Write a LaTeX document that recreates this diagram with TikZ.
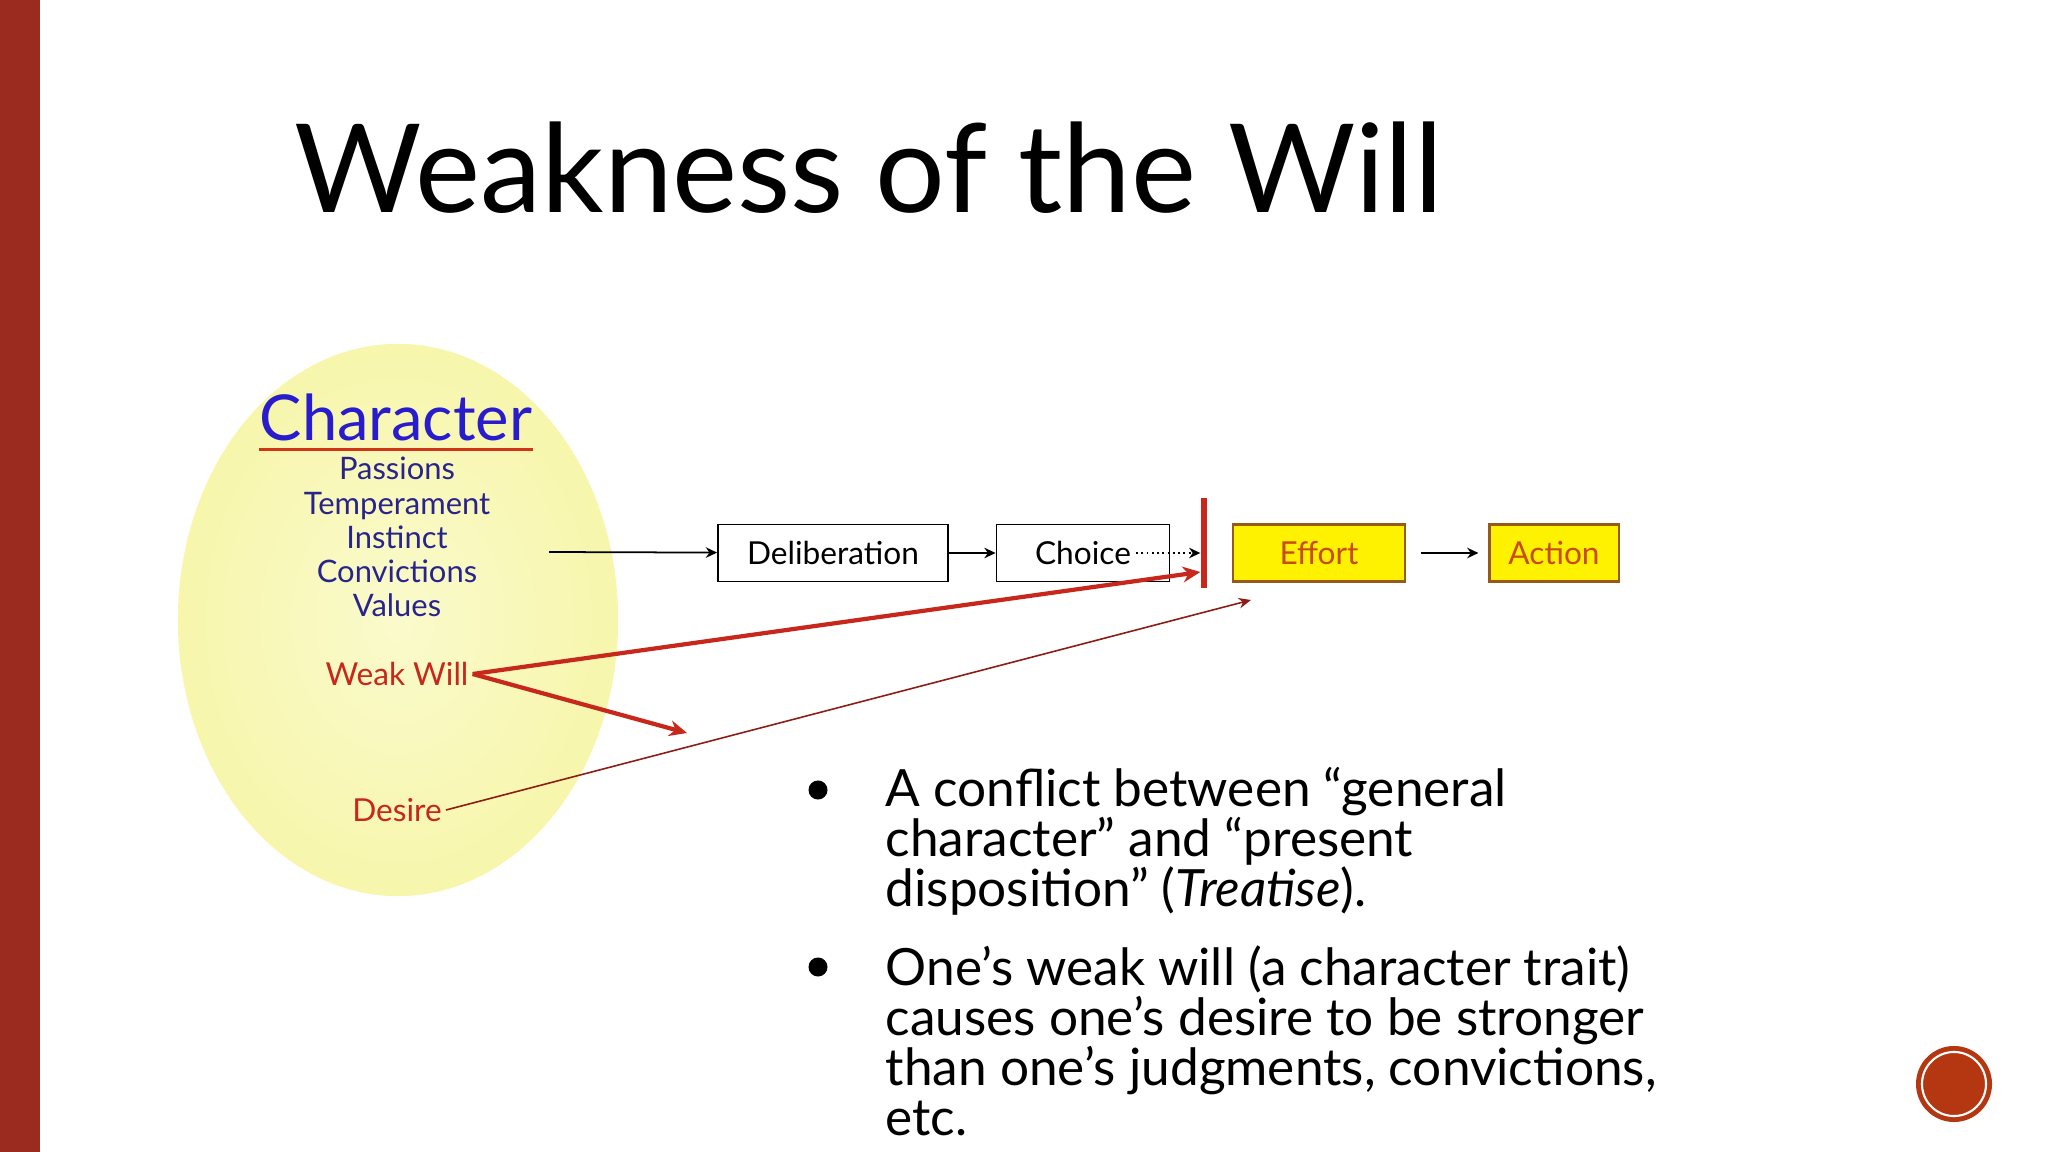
\documentclass[tikz,border=0pt]{standalone}
\usepackage{fontspec}
\setmainfont{Lato}
\usepackage{xcolor}
\usetikzlibrary{arrows.meta,positioning,shapes.geometric}

\definecolor{slidebar}{RGB}{156,43,31}
\definecolor{charblue}{RGB}{40,28,205}
\definecolor{listblue}{RGB}{40,36,140}
\definecolor{willred}{RGB}{200,40,28}
\definecolor{boxyellow}{RGB}{255,242,0}
\definecolor{boxedge}{RGB}{150,90,20}
\definecolor{boxtext}{RGB}{200,75,20}
\definecolor{badgered}{RGB}{180,55,18}

\begin{document}
\begin{tikzpicture}[
  x=0.01cm, y=-0.01cm,
  stage/.style={draw, line width=0.5pt, minimum width=2.3cm, minimum height=0.57cm, font=\fontsize{9}{11}\selectfont, inner sep=0pt},
  final/.style={draw=boxedge, fill=boxyellow, line width=0.6pt, minimum height=0.57cm, font=\fontsize{9}{11}\selectfont, text=boxtext, inner sep=0pt},
  label/.style={font=\fontsize{9}{11}\selectfont, text=willred, inner sep=1pt},
  arr/.style={-{Stealth[length=3.2pt, width=3pt]}, line width=0.5pt},
  redarr/.style={-{Stealth[length=5pt, width=4.5pt]}, line width=1.2pt, willred},
  thinarr/.style={-{Stealth[length=3.5pt, width=3pt]}, line width=0.45pt, willred!70!black},
  bulletdot/.style={circle, fill=black, minimum size=0.19cm, inner sep=0pt},
  bullettext/.style={anchor=base west, align=left, inner sep=0pt, font=\fontsize{14.6}{14.2}\selectfont}
]
  \useasboundingbox (0,0) rectangle (2048,1152);

  % Slide frame
  \fill[slidebar] (0,0) rectangle (40,1152);
  \node[anchor=base west, inner sep=0pt, font=\fontsize{35}{40}\selectfont] (title) at (294,213) {Weakness of the Will};

  % Character ellipse
  \node[ellipse, inner color={rgb,255:red,250;green,250;blue,204}, outer color={rgb,255:red,247;green,246;blue,172}, minimum width=4.4cm, minimum height=5.52cm] (char) at (398,620) {};
  \node[anchor=base, inner sep=0pt, text=charblue, font=\fontsize{18}{20}\selectfont] (chartitle) at (396,441) {Character};
  \draw[willred!85!orange, line width=0.9pt] ([yshift=-2.5pt]chartitle.base west) -- ([yshift=-2.5pt]chartitle.base east);
  \node[align=center, inner sep=0pt, text=listblue, font=\fontsize{8.8}{9.7}\selectfont] (traits) at (397,537) {Passions\\Temperament\\Instinct\\Convictions\\Values};
  \node[label] (weak) at (397,674) {Weak Will};
  \node[label] (desire) at (397,810) {Desire};

  % Process chain
  \coordinate (start) at (549,552);
  \node[stage] (delib) at (833,553) {Deliberation};
  \node[stage, minimum width=1.73cm] (choice) at (1083,553) {Choice};
  \node[fill=willred, minimum width=0.06cm, minimum height=0.89cm, inner sep=0pt] (bar) at (1204,543) {};
  \node[final, minimum width=1.72cm] (effort) at (1319,553) {Effort};
  \node[final, minimum width=1.29cm] (action) at (1554,553) {Action};
  \coordinate (choiceend) at (1136,553);

  % Influence of the weak will
  \coordinate (pull) at (687,733);
  \coordinate (push) at (1251,600);

  % Arrows
  \draw[arr] (start) -- (delib);
  \draw[arr] (delib) -- (choice);
  \draw[arr, densely dotted, line width=0.4pt] (choiceend) -- (choiceend -| bar.west);
  \draw[arr] ([xshift=0.15cm]effort.east) -- ([xshift=-0.1cm]action.west);
  \draw[redarr] (weak.east) -- ([yshift=-0.29cm]bar.west);
  \draw[redarr] (weak.east) -- (pull);
  \draw[thinarr] (desire.east) -- (push);

  % Bullets
  \node[bulletdot] (dot1) at (818,790) {};
  \node[bullettext] (point1) at (885,906) {A conflict between “general\\character” and “present\\disposition” (\textit{Treatise}).};
  \node[bulletdot] (dot2) at (818,967) {};
  \node[bullettext] (point2) at (885,1135) {One’s weak will (a character trait)\\causes one’s desire to be stronger\\than one’s judgments, convictions,\\etc.};

  % Corner badge
  \node[circle, fill=badgered, minimum size=0.76cm, inner sep=0pt] (badge) at (1954,1084) {};
  \node[circle, draw=white, line width=0.6pt, minimum size=0.64cm, inner sep=0pt] (badgering) at (badge) {};
\end{tikzpicture}
\end{document}
